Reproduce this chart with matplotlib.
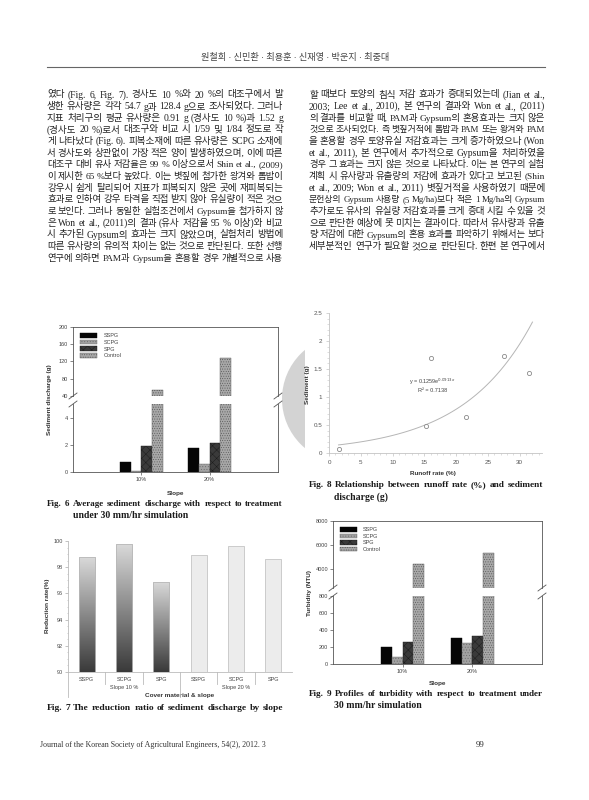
import numpy as np
import matplotlib
matplotlib.use("Agg")
import matplotlib.pyplot as plt
from matplotlib.patches import Circle, Rectangle
from matplotlib.ticker import MultipleLocator
from matplotlib.colors import LinearSegmentedColormap

W, H = 589, 800

# --- data ---
groups = ["10%", "20%"]
treatments = ["SSPG", "SCPG", "SPG", "Control"]
sed_10 = [0.72, 0.10, 1.90, 54.7]
sed_20 = [1.77, 0.62, 2.15, 128.4]
turb_10 = [195, 80, 255, 4400]
turb_20 = [305, 245, 325, 5350]
red_labels = ["SSPG", "SCPG", "SPG", "SSPG", "SCPG", "SPG"]
red_groups = ["Slope 10 %", "Slope 20 %"]
red_vals = [98.8, 99.8, 96.9, 98.9, 99.6, 98.65]
runoff = [1.5, 15.2, 16.0, 21.5, 27.5, 31.5]
sediment = [0.08, 0.48, 1.70, 0.64, 1.73, 1.43]
fit_a, fit_b, fit_r2 = 0.1259, 0.0913, 0.7138

header = "원철희 · 신민환 · 최용훈 · 신재영 · 박운지 · 최중대"
left_col = [
    "였다 (Fig. 6, Fig. 7). 경사도 10 %와 20 %의 대조구에서 발",
    "생한 유사량은 각각 54.7 g과 128.4 g으로 조사되었다. 그러나",
    "지표 처리구의 평균 유사량은 0.91 g (경사도 10 %)과 1.52 g",
    "(경사도 20 %)로서 대조구와 비교 시 1/59 및 1/84 정도로 작",
    "게 나타났다 (Fig. 6). 피복소재에 따른 유사량은 SCPG 소재에",
    "서 경사도와 상관없이 가장 적은 양이 발생하였으며, 이에 따른",
    "대조구 대비 유사 저감율은 99 % 이상으로서 Shin et al., (2009)",
    "이 제시한 65 %보다 높았다. 이는 볏짚에 첨가한 왕겨와 톱밥이",
    "강우시 쉽게 탈리되어 지표가 피복되지 않은 곳에 재피복되는",
    "효과로 인하여 강우 타격을 직접 받지 않아 유실량이 적은 것으",
    "로 보인다. 그러나 동일한 실험조건에서 Gypsum을 첨가하지 않",
    "은 Won et al., (2011)의 결과 (유사 저감율 95 % 이상)와 비교",
    "시 추가된 Gypsum의 효과는 크지 않았으며, 실험처리 방법에",
    "따른 유사량의 유의적 차이는 없는 것으로 판단된다. 또한 선행",
    "연구에 의하면 PAM과 Gypsum을 혼용할 경우 개별적으로 사용",
]
right_col = [
    "할 때보다 토양의 침식 저감 효과가 증대되었는데 (Jian et al.,",
    "2003; Lee et al., 2010), 본 연구의 결과와 Won et al., (2011)",
    "의 결과를 비교할 때, PAM과 Gypsum의 혼용효과는 크지 않은",
    "것으로 조사되었다. 즉 볏짚거적에 톱밥과 PAM 또는 왕겨와 PAM",
    "을 혼용할 경우 토양유실 저감효과는 크게 증가하였으나 (Won",
    "et al., 2011), 본 연구에서 추가적으로 Gypsum을 처리하였을",
    "경우 그 효과는 크지 않은 것으로 나타났다. 이는 본 연구의 실험",
    "계획 시 유사량과 유출량의 저감에 효과가 있다고 보고된 (Shin",
    "et al., 2009; Won et al., 2011) 볏짚거적을 사용하였기 때문에",
    "문헌상의 Gypsum 사용량 (5 Mg/ha)보다 적은 1 Mg/ha의 Gypsum",
    "추가로도 유사의 유실량 저감효과를 크게 증대 시킬 수 있을 것",
    "으로 판단한 예상에 못 미치는 결과이다. 따라서 유사량과 유출",
    "량 저감에 대한 Gypsum의 혼용 효과를 파악하기 위해서는 보다",
    "세부분적인 연구가 필요할 것으로 판단된다. 한편 본 연구에서",
]

SERIF = ["Liberation Serif", "Noto Sans CJK KR"]
SANS = ["Liberation Sans", "DejaVu Sans"]
plt.rcParams["hatch.linewidth"] = 0.35

fig = plt.figure(figsize=(W / 100, H / 100), dpi=100)
rend = fig.canvas.get_renderer()

# page layer, one unit = one pixel
page = fig.add_axes([0, 0, 1, 1])
page.set_xlim(0, W)
page.set_ylim(H, 0)
page.axis("off")


def px_axes(x0, y0, x1, y1):
    return fig.add_axes([x0 / W, 1 - y1 / H, (x1 - x0) / W, (y1 - y0) / H])


def justify(line, x0, x1, y, size, family, weight="normal", color="#222222", min_gap=2.2):
    words = line.split(" ")
    ts = [page.text(x0, y, w, fontsize=size, family=family, fontweight=weight,
                    color=color, ha="left", va="center") for w in words]
    ws = [t.get_window_extent(renderer=rend).width for t in ts]
    n = max(len(words) - 1, 1)
    room = x1 - x0 - n * min_gap
    if sum(ws) > room:
        # line too long at this size: shrink it a little
        f = room / sum(ws)
        for t in ts:
            t.set_fontsize(size * f)
        ws = [t.get_window_extent(renderer=rend).width for t in ts]
    gap = (x1 - x0 - sum(ws)) / n
    x = x0
    for t, w in zip(ts, ws):
        t.set_x(x)
        x += w + gap


# header
page.text(295, 57, header, fontsize=6.6, family=SERIF, color="#444444",
          ha="center", va="center")
page.plot([47, 545], [67, 67], color="#666666", lw=0.8)

# body text
for i, line in enumerate(left_col):
    justify(line, 47, 283, 95 + i * 11.65, 6.9, SERIF)
for i, line in enumerate(right_col):
    justify(line, 309, 545, 95 + i * 11.65, 6.9, SERIF)

# grey watermark behind Fig. 8
clip = Rectangle((275, 330), 30, 140, transform=page.transData)
circ = Circle((346, 399), 64, fc="#d3d3d3", ec="none")
page.add_patch(circ)
circ.set_clip_path(clip)

# captions
CAP = 7.0
cap_kw = dict(size=CAP, family=SERIF, weight="bold", color="#1a1a1a", min_gap=3.0)
justify("Fig. 6 Average sediment discharge with respect to treatment", 47, 283, 504, **cap_kw)
page.text(73, 516, "under 30 mm/hr simulation", fontsize=CAP, family=SERIF,
          fontweight="bold", color="#1a1a1a", va="center")
justify("Fig. 7 The reduction ratio of sediment discharge by slope", 47, 283, 708, **cap_kw)
justify("Fig. 8 Relationship between runoff rate (%) and sediment", 309, 543, 485, **cap_kw)
page.text(334, 497, "discharge (g)", fontsize=CAP, family=SERIF,
          fontweight="bold", color="#1a1a1a", va="center")
justify("Fig. 9 Profiles of turbidity with respect to treatment under", 309, 543, 694, **cap_kw)
page.text(334, 706, "30 mm/hr simulation", fontsize=CAP, family=SERIF,
          fontweight="bold", color="#1a1a1a", va="center")

# footer
page.text(40, 745, "Journal of the Korean Society of Agricultural Engineers, 54(2), 2012. 3",
          fontsize=5.7, family=SERIF, color="#333333", va="center")
page.text(484, 745, "99", fontsize=6.5, family=SERIF, color="#333333",
          va="center", ha="right")

# --- broken-axis grouped bars (Fig. 6 and Fig. 9) ---
styles = {
    "SSPG": dict(color="#050505", edgecolor="#050505"),
    "SCPG": dict(color="#a2a2a2", edgecolor="#6a6a6a", hatch="......"),
    "SPG": dict(color="#3a3a3a", edgecolor="#1c1c1c", hatch="xxxx"),
    "Control": dict(color="#a8a8a8", edgecolor="#555555", hatch="......."),
}
AX_COL = "#555555"


def style_axis(ax):
    for s in ax.spines.values():
        s.set_color(AX_COL)
        s.set_linewidth(0.6)
    ax.tick_params(direction="out", length=2, width=0.5, labelsize=4,
                   pad=1.5, colors=AX_COL, labelcolor="#444444")
    for lab in ax.get_xticklabels() + ax.get_yticklabels():
        lab.set_family(SANS)
    ax.set_facecolor("none")


def broken_bars(top_box, bot_box, v10, v20, lim_top, lim_bot, ticks_top, ticks_bot,
                ylabel, ylab_x, xlab_y, leg_anchor):
    at = px_axes(*top_box)
    ab = px_axes(*bot_box)
    bw = 0.155
    xg = np.array([1, 2])
    for ax in (at, ab):
        for i, name in enumerate(treatments):
            ax.bar(xg + (i - 1.5) * bw, [v10[i], v20[i]], bw, label=name,
                   linewidth=0.3, **styles[name])
        ax.set_xlim(0, 3)
    at.set_ylim(*lim_top)
    ab.set_ylim(*lim_bot)
    at.set_yticks(ticks_top)
    ab.set_yticks(ticks_bot)
    at.set_xticks([])
    ab.set_xticks(xg, groups)
    at.spines["bottom"].set_visible(False)
    ab.spines["top"].set_visible(False)
    style_axis(at)
    style_axis(ab)
    leg = at.legend(loc="upper left", bbox_to_anchor=leg_anchor, frameon=False,
                    handlelength=3.0, handleheight=0.9,
                    labelspacing=0.25, handletextpad=1.2, borderpad=0,
                    borderaxespad=0, prop={"family": SANS, "size": 4})
    for t in leg.get_texts():
        t.set_color("#444444")
    # break marks
    for x in (top_box[0], top_box[2]):
        for y in (top_box[3], bot_box[1]):
            page.plot([x - 4, x + 4], [y + 3, y - 3], color=AX_COL, lw=0.6)
    xm = (top_box[0] + top_box[2]) / 2
    page.text(xm, xlab_y, "Slope", fontsize=4.6, family=SANS, fontweight="bold",
              color="#333333", ha="center", va="center")
    page.text(ylab_x, (top_box[1] + bot_box[3]) / 2, ylabel, fontsize=4.6,
              family=SANS, fontweight="bold", color="#333333",
              ha="center", va="center", rotation=90)


broken_bars((73, 327, 278, 396), (73, 404, 278, 472), sed_10, sed_20,
            (40, 200), (0, 5), [40, 80, 120, 160, 200], [0, 2, 4],
            "Sediment discharge (g)", 50, 493, (0.034, 0.91))
broken_bars((333, 521, 542, 588), (333, 596, 542, 664), turb_10, turb_20,
            (2400, 8000), (0, 800), [4000, 6000, 8000], [0, 200, 400, 600, 800],
            "Turbidity (NTU)", 309, 683, (0.033, 0.91))

# --- Fig. 7 reduction ratio ---
a7 = px_axes(68, 541, 292, 672)
xs = np.arange(len(red_vals))
bars = a7.bar(xs, red_vals, 0.43, color="#ececec", edgecolor="#c4c4c4", linewidth=0.6)
grad = np.linspace(0, 1, 200).reshape(-1, 1)
gcm = LinearSegmentedColormap.from_list("g", ["#3a3a3a", "#dadada"])
for b in list(bars)[:3]:
    b.set_facecolor("none")
    b.set_edgecolor("#b8b8b8")
    im = a7.imshow(grad, extent=[b.get_x(), b.get_x() + b.get_width(), 90, b.get_height()],
                   origin="lower", cmap=gcm, aspect="auto", zorder=b.get_zorder() - 0.1)
    im.set_clip_path(b)
a7.set_xlim(-0.5, len(red_vals) - 0.5)
a7.set_ylim(90, 100)
a7.set_yticks(np.arange(90, 101, 2))
a7.yaxis.set_minor_locator(MultipleLocator(0.5))
a7.set_xticks(xs, red_labels)
a7.spines["top"].set_visible(False)
a7.spines["right"].set_visible(False)
style_axis(a7)
a7.spines["left"].set_color("#bbbbbb")
a7.spines["bottom"].set_color("#bbbbbb")
a7.tick_params(axis="x", length=0, pad=3.5)
a7.tick_params(axis="y", which="minor", length=1, width=0.4, colors="#aaaaaa")
a7.tick_params(axis="y", which="major", colors="#aaaaaa", labelcolor="#444444")
tr = a7.get_xaxis_transform()
hpx = 672 - 541
for k in range(len(red_vals)):
    drop = 25 if k in (0, 3) else 12
    a7.plot([k - 0.5, k - 0.5], [0, -drop / hpx], transform=tr, clip_on=False,
            color="#bbbbbb", lw=0.6)
for g, lab in enumerate(red_groups):
    a7.text(g * 3 + 1, -16 / hpx, lab, transform=tr, fontsize=4, family=SANS,
            color="#444444", ha="center", va="center")
page.text(180, 696, "Cover material & slope", fontsize=4.6, family=SANS,
          fontweight="bold", color="#333333", ha="center", va="center")
page.text(48, 606, "Reduction rate(%)", fontsize=4.6, family=SANS,
          fontweight="bold", color="#333333", ha="center", va="center", rotation=90)

# --- Fig. 8 runoff vs sediment ---
a8 = px_axes(329, 313, 542, 453)
xf = np.linspace(min(runoff), 32, 100)
a8.plot(xf, fit_a * np.exp(fit_b * xf), color="#b5b5b5", lw=0.7)
a8.scatter(runoff, sediment, s=9, facecolor="white", edgecolor="#8a8a8a", lw=0.6, zorder=3)
a8.set_xlim(0, 33.5)
a8.set_ylim(0, 2.5)
a8.set_xticks(np.arange(0, 31, 5))
a8.set_yticks([0, 0.5, 1, 1.5, 2, 2.5], ["0", "0.5", "1", "1.5", "2", "2.5"])
a8.xaxis.set_minor_locator(MultipleLocator(1))
a8.yaxis.set_minor_locator(MultipleLocator(0.1))
a8.spines["top"].set_visible(False)
a8.spines["right"].set_visible(False)
style_axis(a8)
for s in ("left", "bottom"):
    a8.spines[s].set_color("#c4c4c4")
a8.tick_params(which="both", colors="#c4c4c4", labelcolor="#555555")
a8.tick_params(which="minor", length=1.2, width=0.4)
a8.tick_params(labelsize=4.5, pad=3)
a8.text(0.485, 0.51, r"y = 0.1259e$^{0.0913x}$", transform=a8.transAxes, fontsize=4,
        family=SANS, color="#444444", ha="center", va="center")
a8.text(0.485, 0.445, "R² = %.4f" % fit_r2, transform=a8.transAxes, fontsize=4,
        family=SANS, color="#444444", ha="center", va="center")
page.text(433, 473, "Runoff rate (%)", fontsize=4.6, family=SANS, fontweight="bold",
          color="#333333", ha="center", va="center")
page.text(308, 385, "Sediment (g)", fontsize=4.6, family=SANS, fontweight="bold",
          color="#333333", ha="center", va="center", rotation=90)

fig.savefig("out.png", dpi=100)
